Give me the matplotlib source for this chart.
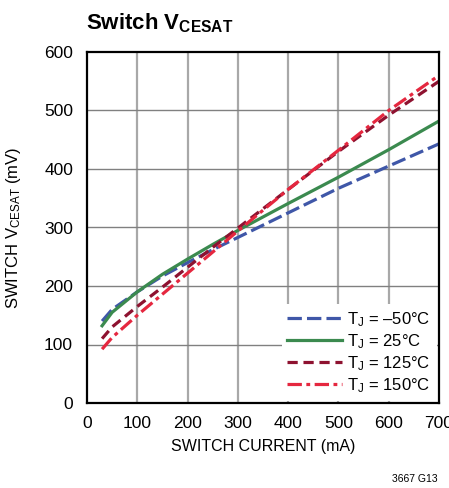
import matplotlib
matplotlib.use("Agg")
import matplotlib.pyplot as plt

# wartosci (mA -> mV)
current_ma = [30, 50, 100, 150, 200, 250, 300, 400, 500, 600, 700]
vce_m50 = [140, 160, 190, 217, 240, 262, 283, 325, 367, 405, 443]
vce_25 = [132, 155, 190, 220, 246, 271, 295, 341, 386, 433, 482]
vce_125 = [110, 130, 165, 198, 232, 266, 299, 365, 430, 492, 550]
vce_150 = [92, 112, 150, 186, 222, 258, 294, 365, 432, 500, 560]

x_ticks = [0, 100, 200, 300, 400, 500, 600, 700]
y_ticks = [0, 100, 200, 300, 400, 500, 600]
labels = ["$\\mathregular{T_J}$ = \u201350\u00b0C", "$\\mathregular{T_J}$ = 25\u00b0C",
          "$\\mathregular{T_J}$ = 125\u00b0C", "$\\mathregular{T_J}$ = 150\u00b0C"]

plt.rcParams['font.family'] = ['Liberation Sans', 'DejaVu Sans']
plt.rcParams['mathtext.fontset'] = 'custom'
plt.rcParams['mathtext.rm'] = 'Liberation Sans'

fig = plt.figure(figsize=(4.49, 4.88), dpi=100)
ax = fig.add_axes([87 / 449, 85 / 488, 352 / 449, 351 / 488])

ax.plot(current_ma, vce_m50, color="#3f57a8", lw=2.3, dashes=(4.5, 1.6), label=labels[0])
ax.plot(current_ma, vce_25, color="#3b8a4f", lw=2.3, label=labels[1])
ax.plot(current_ma, vce_125, color="#8e1230", lw=2.3, dashes=(3.2, 1.8), label=labels[2])
ax.plot(current_ma, vce_150, color="#e5273f", lw=2.3, dashes=(4.5, 1.4, 1.2, 1.4), label=labels[3])

ax.set_xlim(0, 700)
ax.set_ylim(0, 600)
ax.set_xticks(x_ticks)
ax.set_yticks(y_ticks)
for xv in x_ticks[1:-1]:
    ax.axvline(xv, color="#a8a8a8", lw=1.6, zorder=0)
for yv in y_ticks[1:-1]:
    ax.axhline(yv, color="#808080", lw=1.0, zorder=0)
ax.tick_params(length=0, labelsize=12.5, pad=9)
ax.tick_params(axis='y', pad=10)
for s in ax.spines.values():
    s.set_linewidth(1.6)

ax.set_xlabel("SWITCH CURRENT (mA)", fontsize=11.5, labelpad=6)
ax.set_ylabel("SWITCH $\\mathregular{V_{CESAT}}$ (mV)", fontsize=12)
ax.yaxis.set_label_coords(-0.182, 0.5)

leg = ax.legend(loc="lower right", fontsize=12, frameon=True, fancybox=False,
                edgecolor="none", framealpha=1, handlelength=3.3, handletextpad=0.3,
                labelspacing=0.2, borderpad=0.35, borderaxespad=0.15)

fig.text(86 / 449, 1 - 29 / 488, "Switch $\\mathregular{V_{CESAT}}$", fontsize=16,
         fontweight="bold", ha="left", va="baseline")
fig.text(438 / 449, 1 - 479 / 488, "3667 G13", fontsize=7.5, ha="right", va="center")

fig.savefig("out.png", dpi=100)
